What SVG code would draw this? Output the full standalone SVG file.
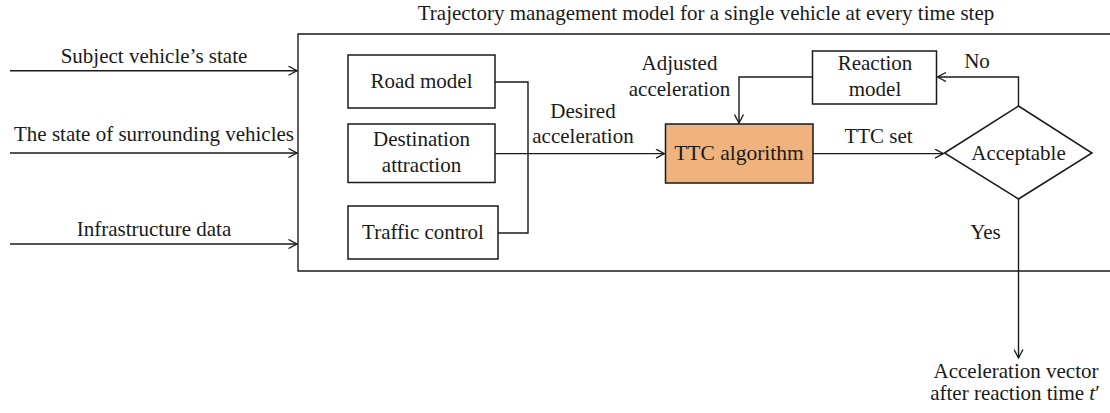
<svg xmlns="http://www.w3.org/2000/svg" width="1110" height="413" viewBox="0 0 1110 413">
<style>
text{font-family:"Liberation Serif","Times New Roman",serif;font-size:21px;fill:#1a1a1a;text-anchor:middle}
.box{fill:#fff;stroke:#1a1a1a;stroke-width:1.5}
.ttc{fill:#F0B37E;stroke:#1a1a1a;stroke-width:1.5}
.ln{fill:none;stroke:#1a1a1a;stroke-width:1.4}
</style>
<defs>
<marker id="arr" viewBox="0 0 10 10" refX="9.5" refY="5" markerWidth="10" markerHeight="10" markerUnits="userSpaceOnUse" orient="auto">
<path d="M1,0.5 L9.5,5 L1,9.5" fill="none" stroke="#1a1a1a" stroke-width="1.3"/>
</marker>
</defs>
<rect width="1110" height="413" fill="#fff"/>
<g id="frame">
<path class="ln" d="M1112,34 H298 V271 H1112"/>
<text x="706" y="20">Trajectory management model for a single vehicle at every time step</text>
</g>
<g id="inputs">
<text x="154" y="63">Subject vehicle’s state</text>
<text x="154" y="141">The state of surrounding vehicles</text>
<text x="154" y="236">Infrastructure data</text>
</g>
<g id="road-model"><rect class="box" x="348" y="55" width="147" height="53"/><text x="421.5" y="88">Road model</text></g>
<g id="destination-attraction"><rect class="box" x="348" y="124" width="147" height="58.5"/><text x="421.5" y="146">Destination</text><text x="421.5" y="172">attraction</text></g>
<g id="traffic-control"><rect class="box" x="348" y="206" width="150" height="53"/><text x="423" y="239">Traffic control</text></g>
<g id="ttc-algorithm"><rect class="ttc" x="665.5" y="124" width="147.5" height="59"/><text x="739" y="160" style="font-size:21.5px">TTC algorithm</text></g>
<g id="reaction-model"><rect class="box" x="812.5" y="51" width="124" height="53"/><text x="875" y="70">Reaction</text><text x="875" y="96">model</text></g>
<g id="acceptable"><path class="box" d="M944.5,153 L1018.5,106 L1092,153 L1018.5,199 Z"/><text x="1018.5" y="160">Acceptable</text></g>
<g id="connectors">
<path class="ln" d="M10,70.7 H297" marker-end="url(#arr)"/>
<path class="ln" d="M10,153 H297" marker-end="url(#arr)"/>
<path class="ln" d="M10,244 H297" marker-end="url(#arr)"/>
<path class="ln" d="M495,82 H528 V233 H498"/>
<path class="ln" d="M495,153.6 H664.5" marker-end="url(#arr)"/>
<path class="ln" d="M813,153.6 H943.5" marker-end="url(#arr)"/>
<path class="ln" d="M1018.5,106 V77 H937.5" marker-end="url(#arr)"/>
<path class="ln" d="M812.5,77 H739 V123" marker-end="url(#arr)"/>
<path class="ln" d="M1018.5,199 V358" marker-end="url(#arr)"/>
<text x="583" y="118">Desired</text>
<text x="583" y="143">acceleration</text>
<text x="679.5" y="70">Adjusted</text>
<text x="679.5" y="96">acceleration</text>
<text x="878.5" y="143">TTC set</text>
<text x="977" y="68">No</text>
<text x="985.5" y="239">Yes</text>
<text x="1016" y="378">Acceleration vector</text>
<text x="1015" y="400">after reaction time <tspan font-style="italic">t</tspan>′</text>
</g>
</svg>
